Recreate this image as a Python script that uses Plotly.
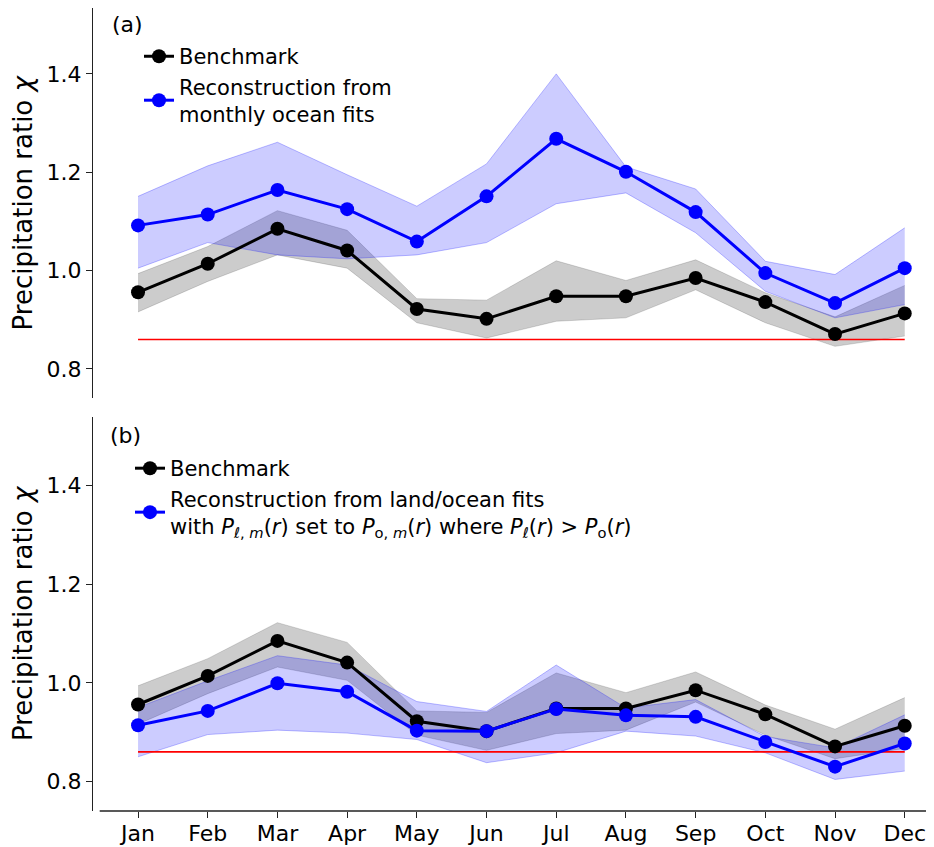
import plotly.graph_objects as go

months = ["Jan", "Feb", "Mar", "Apr", "May", "Jun", "Jul", "Aug", "Sep", "Oct", "Nov", "Dec"]

bench = [0.956, 1.014, 1.085, 1.041, 0.922, 0.902, 0.948, 0.948, 0.985, 0.936, 0.871, 0.913]
bench_lo = [0.916, 0.978, 1.032, 1.005, 0.894, 0.863, 0.897, 0.904, 0.961, 0.894, 0.846, 0.867]
bench_hi = [0.994, 1.049, 1.122, 1.082, 0.943, 0.940, 1.020, 0.980, 1.022, 0.955, 0.906, 0.970]

ocean = [1.092, 1.114, 1.164, 1.125, 1.059, 1.151, 1.268, 1.201, 1.119, 0.995, 0.934, 1.005]
ocean_lo = [1.005, 1.057, 1.032, 1.024, 1.032, 1.057, 1.136, 1.158, 1.077, 0.958, 0.904, 0.931]
ocean_hi = [1.151, 1.213, 1.261, 1.195, 1.131, 1.217, 1.400, 1.211, 1.166, 1.019, 0.992, 1.087]

landocean = [0.914, 0.943, 0.999, 0.982, 0.903, 0.902, 0.947, 0.934, 0.931, 0.880, 0.830, 0.877]
landocean_lo = [0.850, 0.895, 0.904, 0.898, 0.885, 0.838, 0.858, 0.902, 0.892, 0.858, 0.804, 0.821]
landocean_hi = [0.950, 1.004, 1.055, 1.036, 0.962, 0.942, 1.036, 0.949, 0.966, 0.891, 0.868, 0.935]

ref_level = 0.86

yticks = [0.8, 1.0, 1.2, 1.4]
ytick_labels = ["0.8", "1.0", "1.2", "1.4"]

label_a = "(a)"
label_b = "(b)"
name_bench = "Benchmark"
name_ocean = "Reconstruction from<br>monthly ocean fits"
name_land = ("Reconstruction from land/ocean fits<br>with <i>P</i><sub><i>ℓ</i>, <i>m</i></sub>(<i>r</i>) "
             "set to <i>P</i><sub>o, <i>m</i></sub>(<i>r</i>) where "
             "<i>P</i><sub><i>ℓ</i></sub>(<i>r</i>) &gt; <i>P</i><sub>o</sub>(<i>r</i>)")

FONT = "DejaVu Sans"
xidx = list(range(len(months)))

GRAY_FILL = "rgba(0,0,0,0.2)"
GRAY_EDGE = "rgba(0,0,0,0.15)"
BLUE_FILL = "rgba(0,0,255,0.2)"
BLUE_EDGE = "rgba(0,0,255,0.25)"

fig = go.Figure()


def band(lo, hi, fill, edge, xa, ya):
    fig.add_trace(go.Scatter(x=xidx, y=lo, mode="lines", line=dict(color=edge, width=1),
                             showlegend=False, hoverinfo="skip", xaxis=xa, yaxis=ya))
    fig.add_trace(go.Scatter(x=xidx, y=hi, mode="lines", line=dict(color=edge, width=1),
                             fill="tonexty", fillcolor=fill, showlegend=False,
                             hoverinfo="skip", xaxis=xa, yaxis=ya))


def series(vals, color, name, xa, ya, legend):
    fig.add_trace(go.Scatter(x=xidx, y=vals, mode="lines+markers", name=name,
                             line=dict(color=color, width=3),
                             marker=dict(color=color, size=14),
                             xaxis=xa, yaxis=ya, legend=legend))


def redline(xa, ya):
    fig.add_trace(go.Scatter(x=[xidx[0], xidx[-1]], y=[ref_level, ref_level], mode="lines",
                             line=dict(color="red", width=1.6), showlegend=False,
                             hoverinfo="skip", xaxis=xa, yaxis=ya))


# Panel (a)
band(bench_lo, bench_hi, GRAY_FILL, GRAY_EDGE, "x", "y")
band(ocean_lo, ocean_hi, BLUE_FILL, BLUE_EDGE, "x", "y")
redline("x", "y")
series(bench, "black", name_bench, "x", "y", "legend")
series(ocean, "blue", name_ocean, "x", "y", "legend")

# Panel (b)
band(bench_lo, bench_hi, GRAY_FILL, GRAY_EDGE, "x2", "y2")
band(landocean_lo, landocean_hi, BLUE_FILL, BLUE_EDGE, "x2", "y2")
redline("x2", "y2")
series(bench, "black", name_bench, "x2", "y2", "legend2")
series(landocean, "blue", name_land, "x2", "y2", "legend2")

xr = [-0.646, 11.42]


def yaxis_common(rng):
    return dict(range=rng, tickvals=yticks, ticktext=ytick_labels, ticks="outside",
                ticklen=6, tickwidth=1.3, tickcolor="#222", showline=True,
                linecolor="#222", linewidth=1.3, showgrid=False, zeroline=False,
                tickfont=dict(family=FONT, size=22, color="black"),
                title=dict(text="Precipitation ratio <i>χ</i>", standoff=8,
                           font=dict(family=FONT, size=26, color="black")),
                automargin=False)


legend_style = dict(xanchor="left", yanchor="top", bgcolor="rgba(0,0,0,0)",
                    font=dict(family=FONT, size=21, color="black"), tracegroupgap=0,
                    itemwidth=30, traceorder="normal")

fig.update_layout(
    width=926, height=839,
    margin=dict(l=85, r=0, t=0, b=36),
    paper_bgcolor="white", plot_bgcolor="white",
    xaxis=dict(domain=[0, 1], range=xr, anchor="y", showticklabels=False, ticks="",
               showline=False, showgrid=False, zeroline=False, tickvals=xidx),
    yaxis=dict(domain=[0.5137, 1.0], anchor="x", **yaxis_common([0.74, 1.534])),
    xaxis2=dict(domain=[0, 1], range=xr, anchor="y2", tickvals=xidx, ticktext=months,
                ticks="outside", ticklen=6, tickwidth=1.3, tickcolor="#222",
                ticklabelstandoff=-3,
                showline=False, showgrid=False, zeroline=False,
                tickfont=dict(family=FONT, size=22, color="black"), automargin=False),
    yaxis2=dict(domain=[0, 0.4912], anchor="x2", **yaxis_common([0.74, 1.54])),
    legend=dict(x=0.0547, y=0.965, **legend_style),
    legend2=dict(x=0.044, y=0.452, **legend_style),
    annotations=[
        dict(text=label_a, xref="paper", yref="paper", x=0.020, y=0.979, xanchor="left",
             yanchor="middle", showarrow=False, font=dict(family=FONT, size=22, color="black")),
        dict(text=label_b, xref="paper", yref="paper", x=0.018, y=0.467, xanchor="left",
             yanchor="middle", showarrow=False, font=dict(family=FONT, size=22, color="black")),
    ],
    shapes=[
        dict(type="line", xref="x2", yref="y2 domain", x0=-0.55, x1=xr[1], y0=0, y1=0,
             line=dict(color="#222", width=1.3)),
    ],
)

fig.write_html("out.html")
